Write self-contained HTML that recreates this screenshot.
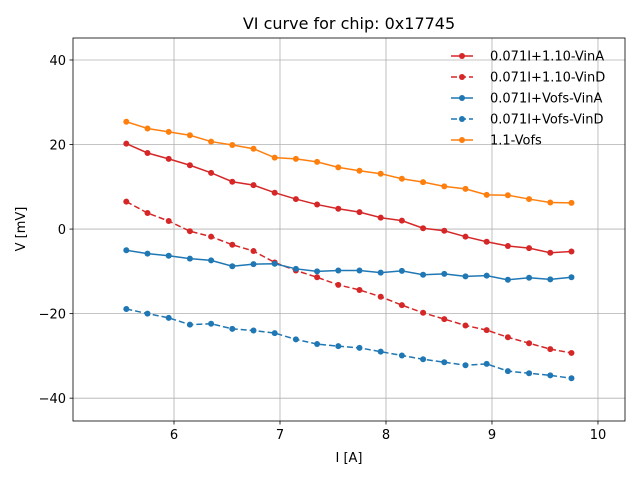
<!DOCTYPE html>
<html><head><meta charset="utf-8"><style>
html,body{margin:0;padding:0;background:#fff;}
svg text{font-family:"DejaVu Sans","Liberation Sans",sans-serif;}
</style></head><body>
<svg id="chart" width="640" height="480" xmlns="http://www.w3.org/2000/svg"></svg>
<script>
const xValues=[5.55,5.75,5.95,6.15,6.35,6.55,6.75,6.95,7.15,7.35,7.55,7.75,7.95,8.15,8.35,8.55,8.75,8.95,9.15,9.35,9.55,9.75];
const redSolid=[20.2,18,16.6,15.1,13.3,11.2,10.4,8.6,7.1,5.8,4.8,4.0,2.7,2.0,0.2,-0.4,-1.8,-3.0,-4.0,-4.5,-5.6,-5.3];
const redDashed=[6.5,3.8,1.9,-0.5,-1.8,-3.7,-5.2,-7.9,-9.8,-11.4,-13.2,-14.4,-16.0,-18.0,-19.8,-21.3,-22.8,-23.9,-25.6,-27.0,-28.4,-29.3];
const blueSolid=[-5.0,-5.8,-6.3,-7.0,-7.4,-8.8,-8.3,-8.2,-9.4,-10.0,-9.8,-9.8,-10.3,-9.9,-10.8,-10.6,-11.2,-11.0,-12.0,-11.5,-11.9,-11.4];
const blueDashed=[-18.9,-20.0,-21.0,-22.6,-22.4,-23.6,-24.0,-24.6,-26.1,-27.2,-27.7,-28.1,-29.0,-29.9,-30.8,-31.5,-32.2,-31.9,-33.6,-34.1,-34.6,-35.3];
const orangeSolid=[25.4,23.8,23.0,22.2,20.7,19.9,19.0,16.9,16.6,15.9,14.6,13.8,13.1,11.9,11.1,10.1,9.5,8.1,8.0,7.1,6.3,6.2];
const seriesLabels=["0.071I+1.10-VinA","0.071I+1.10-VinD","0.071I+Vofs-VinA","0.071I+Vofs-VinD","1.1-Vofs"];
const xTicks=[6,7,8,9,10];
const yTicks=[40,20,0,-20,-40];

const svg=document.getElementById('chart');
const NS='http://www.w3.org/2000/svg';
const L=73,R=625,T=38,B=421;
const xMin=5.047,xMax=10.255,yMin=-45.4,yMax=45.2;
const sx=v=>L+(v-xMin)/(xMax-xMin)*(R-L);
const sy=v=>B-(v-yMin)/(yMax-yMin)*(B-T);
function mk(tag,attrs,parent){const e=document.createElementNS(NS,tag);for(const k in attrs)e.setAttribute(k,attrs[k]);(parent||svg).appendChild(e);return e;}

xTicks.forEach(t=>{
  const x=sx(t);
  const g=mk('line',{x1:x,x2:x,y1:T,y2:B,stroke:'#b0b0b0','stroke-width':0.8});
  
  
  mk('line',{x1:x,x2:x,y1:B,y2:B+3.5,stroke:'#000','stroke-width':0.8});
  const tx=mk('text',{x:x,y:B+18,'font-size':13,'text-anchor':'middle',fill:'#000'});
  tx.textContent=t;
  
  
});
yTicks.forEach(t=>{
  const y=sy(t);
  const g=mk('line',{x1:L,x2:R,y1:y,y2:y,stroke:'#b0b0b0','stroke-width':0.8});
  
  
  mk('line',{x1:L-3.5,x2:L,y1:y,y2:y,stroke:'#000','stroke-width':0.8});
  const tx=mk('text',{x:L-7,y:y+5,'font-size':13,'text-anchor':'end',fill:'#000'});
  tx.textContent=(t<0?'\u2212'+(-t):t);
  
  
});

const series=[
 {d:redSolid,c:'#d62728',dash:null,name:'series-vina-110'},
 {d:redDashed,c:'#d62728',dash:'6,3',name:'series-vind-110'},
 {d:blueSolid,c:'#1f77b4',dash:null,name:'series-vina-vofs'},
 {d:blueDashed,c:'#1f77b4',dash:'6,3',name:'series-vind-vofs'},
 {d:orangeSolid,c:'#ff7f0e',dash:null,name:'series-11-vofs'}
];
series.forEach(s=>{
  const g=mk('g',{});
  
  
  const pts=s.d.map((v,i)=>sx(xValues[i])+','+sy(v)).join(' ');
  const attrs={points:pts,fill:'none',stroke:s.c,'stroke-width':1.5};
  if(s.dash)attrs['stroke-dasharray']=s.dash;
  mk('polyline',attrs,g);
  s.d.forEach((v,i)=>{
    const c=mk('circle',{cx:sx(xValues[i]),cy:sy(v),r:3,fill:s.c},g);
    
    
  });
});

mk('rect',{x:L,y:T,width:R-L,height:B-T,fill:'none',stroke:'#000','stroke-width':0.8});

series.forEach((s,i)=>{
  const y=56+i*21;
  const g=mk('g',{});
  
  
  const a={x1:451,x2:473,y1:y,y2:y,stroke:s.c,'stroke-width':1.5};
  if(s.dash)a['stroke-dasharray']='6,3';
  mk('line',a,g);
  mk('circle',{cx:462,cy:y,r:3,fill:s.c},g);
  const t=mk('text',{x:490,y:y+4.5,'font-size':13,fill:'#000'},g);
  t.textContent=seriesLabels[i];
});

const title=mk('text',{x:349,y:29,'font-size':16,'text-anchor':'middle',fill:'#000'});
title.textContent='VI curve for chip: 0x17745';


const xl=mk('text',{x:349,y:462,'font-size':13,'text-anchor':'middle',fill:'#000'});
xl.textContent='I [A]';


const yl=mk('text',{x:0,y:0,'font-size':13,'text-anchor':'middle',fill:'#000',transform:'translate(25,229) rotate(-90)'});
yl.textContent='V [mV]';


</script>
</body></html>
